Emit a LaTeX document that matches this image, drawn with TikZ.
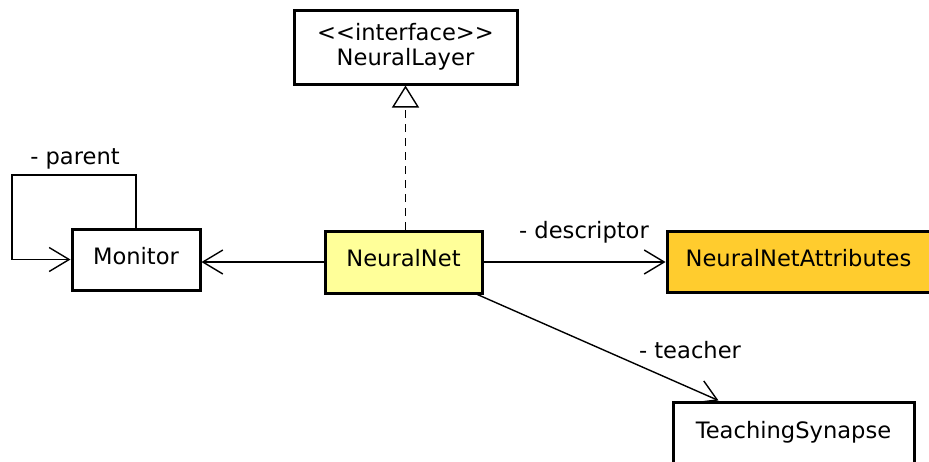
\documentclass[tikz,border=0pt]{standalone}
\usepackage{fontspec}
\setmainfont{DejaVu Sans}
\usetikzlibrary{arrows.meta}

\definecolor{netyellow}{HTML}{FFFF99}
\definecolor{attrorange}{HTML}{FFCC2E}

\tikzset{
  umlclass/.style={draw, rectangle, line width=1.5pt, inner sep=0pt, font=\fontsize{11.3}{12.5}\selectfont},
  oneline/.style={text height=8.5pt, text depth=4pt},
  assoc/.style={line width=0.7pt, -{Straight Barb[length=10pt,width=12pt]}},
  realize/.style={line width=0.7pt, dash pattern=on 4pt off 3pt, -{Triangle[open,length=11pt,width=13.5pt,fill=white]}},
  rolelabel/.style={inner sep=0pt, font=\fontsize{11.3}{12.5}\selectfont}
}

\begin{document}
\begin{tikzpicture}[x=0.5pt, y=-0.5pt]

\clip (0,0) rectangle (929,461);

\node[umlclass, align=center, minimum width=111.5pt, minimum height=37pt] (layer) at (405.5,47) {<{}<interface>{}>\\NeuralLayer};

\node[umlclass, oneline, minimum width=64pt, minimum height=30.5pt] (monitor) at (136,259.5) {Monitor};

\node[umlclass, oneline, fill=netyellow, minimum width=78.5pt, minimum height=31pt] (net) at (403.5,262) {NeuralNet};

\node[umlclass, oneline, fill=attrorange, minimum width=131.5pt, minimum height=30.5pt] (attrs) at (798.5,261.5) {NeuralNetAttributes};

\node[umlclass, oneline, minimum width=120.5pt, minimum height=31.5pt] (synapse) at (793.5,433.5) {TeachingSynapse};

\draw[realize] (net.north -| layer.south) -- (layer.south);
\draw[assoc] (net.west) -- (net.west -| monitor.east);
\draw[assoc] (net.east) -- (net.east -| attrs.west);
\draw[assoc] (net) -- (synapse);
\draw[assoc] (monitor.north) |- (12,175) |- (monitor.west);

\node[rolelabel] (parentlbl) at (75,159) {- parent};
\node[rolelabel] (descrlbl) at (584,232) {- descriptor};
\node[rolelabel] (teachlbl) at (690,350) {- teacher};

\end{tikzpicture}
\end{document}
